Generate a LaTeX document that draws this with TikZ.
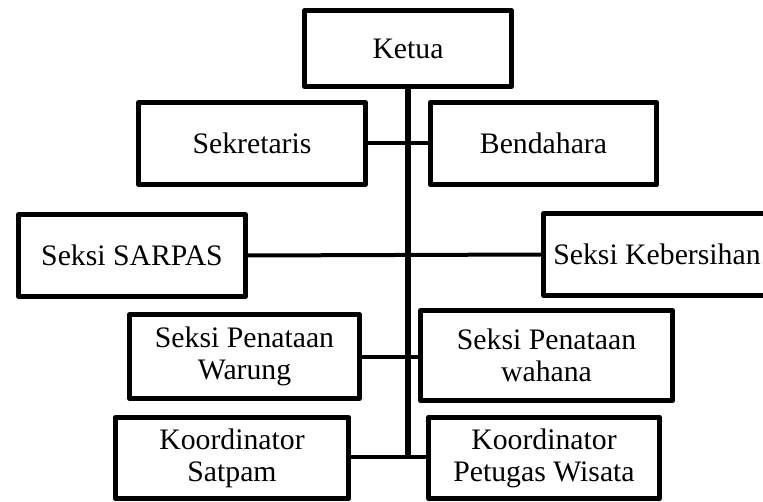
\documentclass[tikz,border=0pt]{standalone}
\usepackage{fontspec}
\setmainfont{Liberation Serif}

\begin{document}
\begin{tikzpicture}[x=0.75pt, y=-0.75pt,
    box/.style 2 args={draw, line width=3.75pt, line join=round, align=center,
        inner sep=0pt, minimum width=#1, minimum height=#2,
        font=\fontsize{22.3}{24}\selectfont},
    link/.style={line width=3pt}]
    \useasboundingbox (0,0) rectangle (763,502);
    \clip (0,0) rectangle (763,502);
        \node[box={155pt}{57pt}] (ketua) at (408,48.5) {Ketua};
        \node[box={170pt}{61.5pt}] (sekretaris) at (252,143.5) {Sekretaris};
        \node[box={170pt}{61.5pt}] (bendahara) at (543.5,143.5) {Bendahara};
        \node[box={170pt}{61.5pt}] (sarpas) at (132,255.5) {Seksi SARPAS};
        \node[box={170pt}{61.5pt}] (kebersihan) at (657,254.5) {Seksi Kebersihan};
        \node[box={172pt}{63pt}] (warung) at (244.5,356.5) {Seksi Penataan\\Warung};
        \node[box={189pt}{67.5pt}] (wahana) at (546.5,355.5) {Seksi Penataan\\wahana};
        \node[box={175pt}{61pt}] (satpam) at (232,458) {Koordinator\\Satpam};
        \node[box={173pt}{61pt}] (petugas) at (544,458) {Koordinator\\Petugas Wisata};
        \coordinate (bawah) at (408,457);
        \draw[line width=4.5pt] (ketua.south) -- (bawah);
        \draw[link] (sekretaris.east) -- (bendahara.west);
        \draw[link] (sarpas.east) -- (kebersihan.west);
        \draw[link] (warung.east) -- (warung.east -| wahana.west);
        \draw[link] (satpam.east |- bawah) -- (petugas.west |- bawah);
    \end{tikzpicture}
\end{document}
